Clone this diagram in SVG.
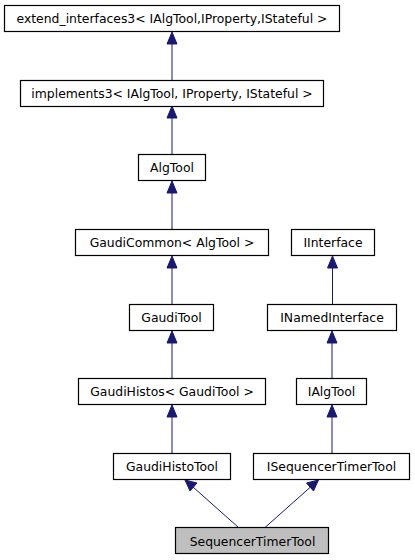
<svg xmlns="http://www.w3.org/2000/svg" width="415" height="560" viewBox="0 0 415 560">
<style>
.n rect{fill:#ffffff;stroke:#000000;stroke-width:1.2}
.n text{font-family:"DejaVu Sans","Liberation Sans",sans-serif;font-size:12.4px;fill:#000000;text-anchor:middle}
.e{stroke:#191970;stroke-width:1;fill:none}
.h{fill:#191970;stroke:#191970;stroke-width:1}
</style>
<rect width="415" height="560" fill="#ffffff"/>
<g id="connectors">
<line class="e" x1="172" y1="80.5" x2="172" y2="44"/>
<polygon class="h" points="172,32 167,44 177,44"/>
<line class="e" x1="172" y1="154.5" x2="172" y2="118"/>
<polygon class="h" points="172,106 167,118 177,118"/>
<line class="e" x1="172" y1="229.5" x2="172" y2="193"/>
<polygon class="h" points="172,181 167,193 177,193"/>
<line class="e" x1="172" y1="304.5" x2="172" y2="268"/>
<polygon class="h" points="172,256 167,268 177,268"/>
<line class="e" x1="172" y1="378.5" x2="172" y2="343"/>
<polygon class="h" points="172,331 167,343 177,343"/>
<line class="e" x1="172" y1="453.5" x2="172" y2="417"/>
<polygon class="h" points="172,405 167,417 177,417"/>
<line class="e" x1="332.5" y1="304.5" x2="332.5" y2="268"/>
<polygon class="h" points="332.5,256 327.5,268 337.5,268"/>
<line class="e" x1="332" y1="378.5" x2="332" y2="343"/>
<polygon class="h" points="332,331 327,343 337,343"/>
<line class="e" x1="332" y1="453.5" x2="332" y2="417"/>
<polygon class="h" points="332,405 327,417 337,417"/>
<line class="e" x1="238.5" y1="527.5" x2="193" y2="487"/>
<polygon class="h" points="185,480 190,491 197,483"/>
<line class="e" x1="265" y1="527.5" x2="310.5" y2="487"/>
<polygon class="h" points="318.5,480 306.5,483 313.5,491"/>
</g>
<g id="n_extend_interfaces3" class="n"><rect x="4.5" y="5.5" width="335" height="26"/><text x="172" y="23">extend_interfaces3&lt; IAlgTool,IProperty,IStateful &gt;</text></g>
<g id="n_implements3" class="n"><rect x="20.5" y="80.5" width="303" height="26"/><text x="172" y="98">implements3&lt; IAlgTool, IProperty, IStateful &gt;</text></g>
<g id="n_AlgTool" class="n"><rect x="138.5" y="154.5" width="67" height="26"/><text x="172" y="172">AlgTool</text></g>
<g id="n_GaudiCommon" class="n"><rect x="75.5" y="229.5" width="193" height="26"/><text x="172" y="247">GaudiCommon&lt; AlgTool &gt;</text></g>
<g id="n_IInterface" class="n"><rect x="291.5" y="229.5" width="83" height="26"/><text x="333" y="247">IInterface</text></g>
<g id="n_GaudiTool" class="n"><rect x="129.5" y="304.5" width="84" height="26"/><text x="171.5" y="322">GaudiTool</text></g>
<g id="n_INamedInterface" class="n"><rect x="267.5" y="304.5" width="129" height="26"/><text x="332" y="322">INamedInterface</text></g>
<g id="n_GaudiHistos" class="n"><rect x="78.5" y="378.5" width="187" height="26"/><text x="172" y="396">GaudiHistos&lt; GaudiTool &gt;</text></g>
<g id="n_IAlgTool" class="n"><rect x="296.5" y="378.5" width="70" height="26"/><text x="331.5" y="396">IAlgTool</text></g>
<g id="n_GaudiHistoTool" class="n"><rect x="113.5" y="453.5" width="117" height="26"/><text x="172" y="471">GaudiHistoTool</text></g>
<g id="n_ISequencerTimerTool" class="n"><rect x="253.5" y="453.5" width="156" height="26"/><text x="331.5" y="471">ISequencerTimerTool</text></g>
<g id="n_SequencerTimerTool" class="n"><rect x="175.5" y="527.5" width="153" height="26" style="fill:#bfbfbf"/><text x="252.5" y="545.5">SequencerTimerTool</text></g>
</svg>
